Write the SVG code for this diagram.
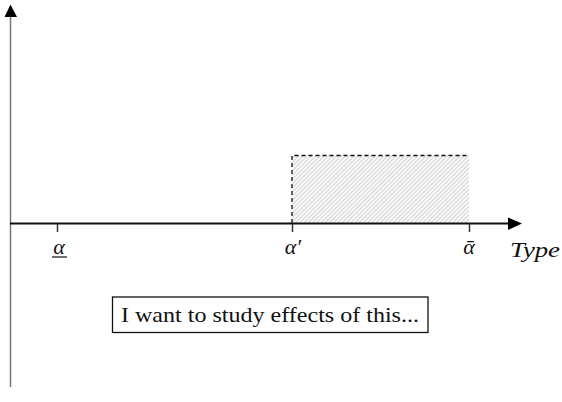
<svg xmlns="http://www.w3.org/2000/svg" width="562" height="402" viewBox="0 0 562 402">
<style>
.lbl{font-family:"Liberation Serif","DejaVu Serif",serif;font-style:italic;font-size:22px;fill:#111}
.tick{stroke:#333;stroke-width:1.5}
</style>
<defs>
<pattern id="hatch" patternUnits="userSpaceOnUse" width="3" height="3" patternTransform="rotate(45)">
<rect width="3" height="3" fill="#fafafa"/>
<line x1="0" y1="0" x2="0" y2="3" stroke="#b8b8b8" stroke-width="1.2"/>
</pattern>
</defs>
<rect width="562" height="402" fill="#fff"/>
<g id="region">
<rect x="292" y="155" width="177" height="68" fill="url(#hatch)"/>
<path d="M292 223 V155.5 H469" fill="none" stroke="#111" stroke-width="1.3" stroke-dasharray="4,3"/>
</g>
<g id="connectors">
<line x1="10.5" y1="387" x2="10.5" y2="16" stroke="#777" stroke-width="1.5"/>
<polygon points="4.5,17 10.5,4.5 17,17" fill="#000"/>
<line x1="10" y1="223.5" x2="510" y2="223.5" stroke="#111" stroke-width="2"/>
<polygon points="508,217.5 522,223.5 508,230" fill="#000"/>
<line class="tick" x1="57.5" y1="224" x2="57.5" y2="232"/>
<line class="tick" x1="292.5" y1="224" x2="292.5" y2="232"/>
<line class="tick" x1="469.5" y1="224" x2="469.5" y2="232"/>
</g>
<g id="labels">
<text class="lbl" x="59" y="254" text-anchor="middle">α</text>
<line x1="52" y1="257" x2="67" y2="257" stroke="#111" stroke-width="1.2"/>
<text class="lbl" x="293" y="254" text-anchor="middle">α′</text>
<text class="lbl" x="469" y="254" text-anchor="middle">ᾱ</text>
<text class="lbl" x="510" y="256.5" textLength="50" lengthAdjust="spacingAndGlyphs">Type</text>
</g>
<g id="note">
<rect x="112.5" y="297" width="315.5" height="35.5" fill="#fff" stroke="#111" stroke-width="1.3"/>
<text x="121" y="322" font-family="Liberation Serif, DejaVu Serif, serif" font-size="21" fill="#111" textLength="298" lengthAdjust="spacingAndGlyphs">I want to study effects of this...</text>
</g>
</svg>
